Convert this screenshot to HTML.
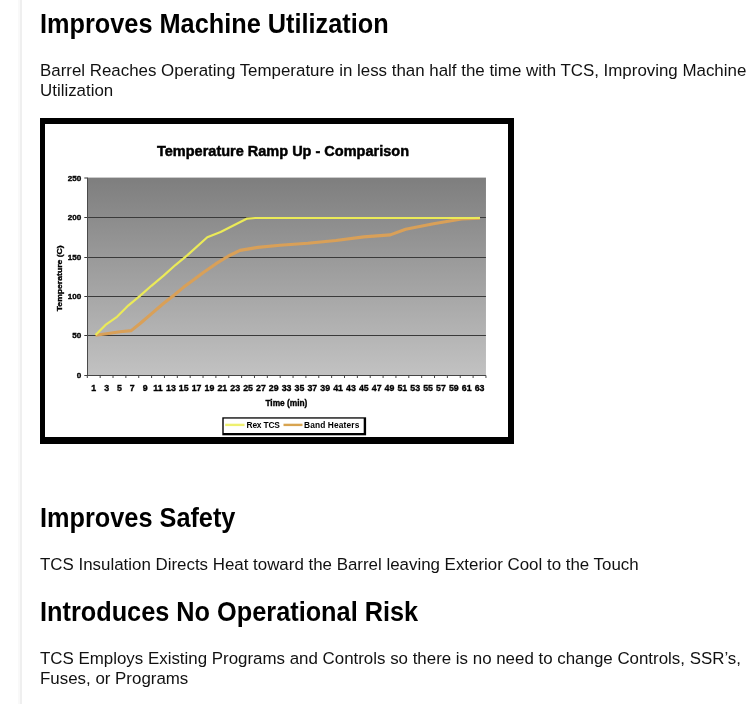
<!DOCTYPE html>
<html><head><meta charset="utf-8">
<style>
html,body{margin:0;padding:0;background:#fff;}
body{width:752px;height:704px;overflow:hidden;position:relative;font-family:"Liberation Sans",sans-serif;color:#111;}
.vline{position:absolute;left:18px;top:0;width:2px;height:704px;background:#f9f9f9;border-right:2px solid #efefef;}
.t{position:absolute;left:40px;white-space:nowrap;margin:0;will-change:transform;}
h2.t{font-size:25.3px;font-weight:bold;color:#000;line-height:30px;transform:scaleY(1.07);transform-origin:0 23.77px;}
p.t{font-size:16.9px;line-height:20px;}
#chart{position:absolute;left:40px;top:118px;width:474px;height:326px;will-change:transform;}
</style></head><body>
<div class="vline"></div>
<h2 class="t" style="top:9.1px">Improves Machine Utilization</h2>
<p class="t" style="top:60.5px">Barrel Reaches Operating Temperature in less than half the time with TCS, Improving Machine<br>Utilization</p>
<div id="chart">
<svg width="474" height="326" viewBox="0 0 474 326" font-family="Liberation Sans, sans-serif" font-weight="bold">
<defs><linearGradient id="g" x1="0" y1="0" x2="0" y2="1"><stop offset="0" stop-color="#7e7e7e"/><stop offset="1" stop-color="#c2c2c2"/></linearGradient></defs>
<rect x="0" y="0" width="474" height="326" fill="#000"/>
<rect x="5" y="6" width="463" height="313" fill="#fff"/>
<g transform="translate(-40,-118)">
<rect x="87.3" y="177.6" width="398.66" height="197.9" fill="url(#g)"/>
<line x1="84.3" y1="217.50" x2="485.96" y2="217.50" stroke="#3a3a3a" stroke-width="1"/>
<line x1="84.3" y1="257.50" x2="485.96" y2="257.50" stroke="#3a3a3a" stroke-width="1"/>
<line x1="84.3" y1="296.50" x2="485.96" y2="296.50" stroke="#3a3a3a" stroke-width="1"/>
<line x1="84.3" y1="335.50" x2="485.96" y2="335.50" stroke="#3a3a3a" stroke-width="1"/>
<line x1="84.3" y1="178" x2="87.3" y2="178" stroke="#333" stroke-width="1"/>
<line x1="87.5" y1="177.6" x2="87.5" y2="375.5" stroke="#4a4a4a" stroke-width="1"/>
<line x1="84.3" y1="375.5" x2="485.96" y2="375.5" stroke="#444" stroke-width="1"/>
<line x1="87.30" y1="375.5" x2="87.30" y2="378.0" stroke="#444" stroke-width="1"/>
<line x1="100.16" y1="375.5" x2="100.16" y2="378.0" stroke="#444" stroke-width="1"/>
<line x1="113.02" y1="375.5" x2="113.02" y2="378.0" stroke="#444" stroke-width="1"/>
<line x1="125.88" y1="375.5" x2="125.88" y2="378.0" stroke="#444" stroke-width="1"/>
<line x1="138.74" y1="375.5" x2="138.74" y2="378.0" stroke="#444" stroke-width="1"/>
<line x1="151.60" y1="375.5" x2="151.60" y2="378.0" stroke="#444" stroke-width="1"/>
<line x1="164.46" y1="375.5" x2="164.46" y2="378.0" stroke="#444" stroke-width="1"/>
<line x1="177.32" y1="375.5" x2="177.32" y2="378.0" stroke="#444" stroke-width="1"/>
<line x1="190.18" y1="375.5" x2="190.18" y2="378.0" stroke="#444" stroke-width="1"/>
<line x1="203.04" y1="375.5" x2="203.04" y2="378.0" stroke="#444" stroke-width="1"/>
<line x1="215.90" y1="375.5" x2="215.90" y2="378.0" stroke="#444" stroke-width="1"/>
<line x1="228.76" y1="375.5" x2="228.76" y2="378.0" stroke="#444" stroke-width="1"/>
<line x1="241.62" y1="375.5" x2="241.62" y2="378.0" stroke="#444" stroke-width="1"/>
<line x1="254.48" y1="375.5" x2="254.48" y2="378.0" stroke="#444" stroke-width="1"/>
<line x1="267.34" y1="375.5" x2="267.34" y2="378.0" stroke="#444" stroke-width="1"/>
<line x1="280.20" y1="375.5" x2="280.20" y2="378.0" stroke="#444" stroke-width="1"/>
<line x1="293.06" y1="375.5" x2="293.06" y2="378.0" stroke="#444" stroke-width="1"/>
<line x1="305.92" y1="375.5" x2="305.92" y2="378.0" stroke="#444" stroke-width="1"/>
<line x1="318.78" y1="375.5" x2="318.78" y2="378.0" stroke="#444" stroke-width="1"/>
<line x1="331.64" y1="375.5" x2="331.64" y2="378.0" stroke="#444" stroke-width="1"/>
<line x1="344.50" y1="375.5" x2="344.50" y2="378.0" stroke="#444" stroke-width="1"/>
<line x1="357.36" y1="375.5" x2="357.36" y2="378.0" stroke="#444" stroke-width="1"/>
<line x1="370.22" y1="375.5" x2="370.22" y2="378.0" stroke="#444" stroke-width="1"/>
<line x1="383.08" y1="375.5" x2="383.08" y2="378.0" stroke="#444" stroke-width="1"/>
<line x1="395.94" y1="375.5" x2="395.94" y2="378.0" stroke="#444" stroke-width="1"/>
<line x1="408.80" y1="375.5" x2="408.80" y2="378.0" stroke="#444" stroke-width="1"/>
<line x1="421.66" y1="375.5" x2="421.66" y2="378.0" stroke="#444" stroke-width="1"/>
<line x1="434.52" y1="375.5" x2="434.52" y2="378.0" stroke="#444" stroke-width="1"/>
<line x1="447.38" y1="375.5" x2="447.38" y2="378.0" stroke="#444" stroke-width="1"/>
<line x1="460.24" y1="375.5" x2="460.24" y2="378.0" stroke="#444" stroke-width="1"/>
<line x1="473.10" y1="375.5" x2="473.10" y2="378.0" stroke="#444" stroke-width="1"/>
<line x1="485.96" y1="375.5" x2="485.96" y2="378.0" stroke="#444" stroke-width="1"/>
<text x="81.2" y="378.00" font-size="8.1" text-anchor="end" stroke="#000" stroke-width="0.35">0</text>
<text x="81.2" y="338.00" font-size="8.1" text-anchor="end" stroke="#000" stroke-width="0.35">50</text>
<text x="81.2" y="299.00" font-size="8.1" text-anchor="end" stroke="#000" stroke-width="0.35">100</text>
<text x="81.2" y="260.00" font-size="8.1" text-anchor="end" stroke="#000" stroke-width="0.35">150</text>
<text x="81.2" y="220.00" font-size="8.1" text-anchor="end" stroke="#000" stroke-width="0.35">200</text>
<text x="81.2" y="180.50" font-size="8.1" text-anchor="end" stroke="#000" stroke-width="0.35">250</text>
<text x="93.73" y="390.6" font-size="8.8" text-anchor="middle" stroke="#000" stroke-width="0.35">1</text>
<text x="106.59" y="390.6" font-size="8.8" text-anchor="middle" stroke="#000" stroke-width="0.35">3</text>
<text x="119.45" y="390.6" font-size="8.8" text-anchor="middle" stroke="#000" stroke-width="0.35">5</text>
<text x="132.31" y="390.6" font-size="8.8" text-anchor="middle" stroke="#000" stroke-width="0.35">7</text>
<text x="145.17" y="390.6" font-size="8.8" text-anchor="middle" stroke="#000" stroke-width="0.35">9</text>
<text x="158.03" y="390.6" font-size="8.8" text-anchor="middle" stroke="#000" stroke-width="0.35">11</text>
<text x="170.89" y="390.6" font-size="8.8" text-anchor="middle" stroke="#000" stroke-width="0.35">13</text>
<text x="183.75" y="390.6" font-size="8.8" text-anchor="middle" stroke="#000" stroke-width="0.35">15</text>
<text x="196.61" y="390.6" font-size="8.8" text-anchor="middle" stroke="#000" stroke-width="0.35">17</text>
<text x="209.47" y="390.6" font-size="8.8" text-anchor="middle" stroke="#000" stroke-width="0.35">19</text>
<text x="222.33" y="390.6" font-size="8.8" text-anchor="middle" stroke="#000" stroke-width="0.35">21</text>
<text x="235.19" y="390.6" font-size="8.8" text-anchor="middle" stroke="#000" stroke-width="0.35">23</text>
<text x="248.05" y="390.6" font-size="8.8" text-anchor="middle" stroke="#000" stroke-width="0.35">25</text>
<text x="260.91" y="390.6" font-size="8.8" text-anchor="middle" stroke="#000" stroke-width="0.35">27</text>
<text x="273.77" y="390.6" font-size="8.8" text-anchor="middle" stroke="#000" stroke-width="0.35">29</text>
<text x="286.63" y="390.6" font-size="8.8" text-anchor="middle" stroke="#000" stroke-width="0.35">33</text>
<text x="299.49" y="390.6" font-size="8.8" text-anchor="middle" stroke="#000" stroke-width="0.35">35</text>
<text x="312.35" y="390.6" font-size="8.8" text-anchor="middle" stroke="#000" stroke-width="0.35">37</text>
<text x="325.21" y="390.6" font-size="8.8" text-anchor="middle" stroke="#000" stroke-width="0.35">39</text>
<text x="338.07" y="390.6" font-size="8.8" text-anchor="middle" stroke="#000" stroke-width="0.35">41</text>
<text x="350.93" y="390.6" font-size="8.8" text-anchor="middle" stroke="#000" stroke-width="0.35">43</text>
<text x="363.79" y="390.6" font-size="8.8" text-anchor="middle" stroke="#000" stroke-width="0.35">45</text>
<text x="376.65" y="390.6" font-size="8.8" text-anchor="middle" stroke="#000" stroke-width="0.35">47</text>
<text x="389.51" y="390.6" font-size="8.8" text-anchor="middle" stroke="#000" stroke-width="0.35">49</text>
<text x="402.37" y="390.6" font-size="8.8" text-anchor="middle" stroke="#000" stroke-width="0.35">51</text>
<text x="415.23" y="390.6" font-size="8.8" text-anchor="middle" stroke="#000" stroke-width="0.35">53</text>
<text x="428.09" y="390.6" font-size="8.8" text-anchor="middle" stroke="#000" stroke-width="0.35">55</text>
<text x="440.95" y="390.6" font-size="8.8" text-anchor="middle" stroke="#000" stroke-width="0.35">57</text>
<text x="453.81" y="390.6" font-size="8.8" text-anchor="middle" stroke="#000" stroke-width="0.35">59</text>
<text x="466.67" y="390.6" font-size="8.8" text-anchor="middle" stroke="#000" stroke-width="0.35">61</text>
<text x="479.53" y="390.6" font-size="8.8" text-anchor="middle" stroke="#000" stroke-width="0.35">63</text>
<text x="286.4" y="405.8" font-size="8.5" text-anchor="middle" stroke="#000" stroke-width="0.35" textLength="42" lengthAdjust="spacingAndGlyphs">Time (min)</text>
<text transform="translate(61.6,278.3) rotate(-90)" font-size="7.8" text-anchor="middle" stroke="#000" stroke-width="0.35" textLength="66" lengthAdjust="spacingAndGlyphs">Temperature (C)</text>
<text x="283" y="156" font-size="15.5" text-anchor="middle" stroke="#000" stroke-width="0.5" textLength="252" lengthAdjust="spacingAndGlyphs">Temperature Ramp Up - Comparison</text>
<polyline points="95.5,335.2 108.2,333.5 120,331.7 131.2,330.6 140.7,323 151.9,313.4 163.1,303.8 174.3,295 183.8,287.1 193.4,279.9 203,272.7 215.7,263.9 228.5,256 240,250.4 257.9,247.4 280,245.3 307.9,243.3 335.9,240.5 363.8,236.9 390.3,234.9 405.7,229.3 433.6,223.7 461.6,219 480,218.2" fill="none" stroke="#d9a058" stroke-width="3.1" stroke-linejoin="round" stroke-linecap="butt"/>
<polyline points="95.5,335 105.5,324.9 117,316.8 128.5,305.3 140,295.9 151.4,285.8 163.6,275.6 175.7,264.8 187.2,255.4 207.3,237.2 220.6,231.9 233.9,225.3 247.2,218.6 255.2,218 480,218" fill="none" stroke="#ebea58" stroke-width="2.2" stroke-linejoin="round" stroke-linecap="butt"/>
<rect x="222.3" y="417.3" width="143.8" height="18" fill="#000"/>
<rect x="223.7" y="418.6" width="140" height="14.4" fill="#fff"/>
<line x1="225.2" y1="424.9" x2="244.5" y2="424.9" stroke="#eef070" stroke-width="2.4"/>
<line x1="283.5" y1="424.9" x2="302.5" y2="424.9" stroke="#d8a450" stroke-width="2.4"/>
<text x="246.5" y="428.3" font-size="8.4" textLength="33.4" lengthAdjust="spacing">Rex TCS</text>
<text x="304" y="428.3" font-size="8.4" textLength="55.3" lengthAdjust="spacing">Band Heaters</text>
</g></svg>
</div>
<h2 class="t" style="top:503.1px">Improves Safety</h2>
<p class="t" style="top:555px">TCS Insulation Directs Heat toward the Barrel leaving Exterior Cool to the Touch</p>
<h2 class="t" style="top:597px">Introduces No Operational Risk</h2>
<p class="t" style="top:648.6px">TCS Employs Existing Programs and Controls so there is no need to change Controls, SSR’s,<br>Fuses, or Programs</p>
</body></html>
